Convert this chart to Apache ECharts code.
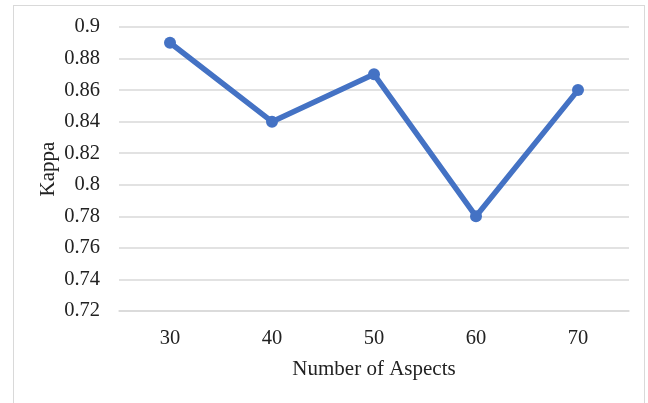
<!DOCTYPE html>
<html><head><meta charset="utf-8">
<script src="https://cdn.jsdelivr.net/npm/echarts@6/dist/echarts.min.js"></script>
<style>html,body{margin:0;padding:0;background:#fff}
#frame{position:absolute;left:13px;top:5px;width:632px;height:420px;border:1px solid #d9d9d9;box-sizing:border-box}
#c{position:absolute;left:0;top:0;width:648px;height:403px}</style>
</head><body><div id="frame"></div><div id="c"></div>
<script>
const categories = ['30','40','50','60','70'];
const kappa = [0.89, 0.84, 0.87, 0.78, 0.86];
const yTicks = {min: 0.72, max: 0.9, interval: 0.02};
const xTitle = 'Number of Aspects';
const yTitle = 'Kappa';

const chart = echarts.init(document.getElementById('c'), null, {renderer:'canvas'});
const font = '"Liberation Serif", "Times New Roman", serif';
chart.setOption({
  animation:false,
  backgroundColor:'transparent',
  grid:{left:119, right:19, top:27, bottom:92},
  xAxis:{type:'category', data:categories, boundaryGap:true,
    axisLine:{show:true, lineStyle:{color:'#d9d9d9', width:1.5}},
    axisTick:{show:false},
    axisLabel:{color:'#222', fontFamily:font, fontSize:20.5, margin:17},
    name:xTitle, nameLocation:'middle', nameGap:48, nameMoveOverlap:false,
    nameTextStyle:{color:'#222', fontFamily:font, fontSize:21}},
  yAxis:{type:'value', min:yTicks.min, max:yTicks.max, interval:yTicks.interval,
    axisLine:{show:false}, axisTick:{show:false},
    splitLine:{lineStyle:{color:'#d9d9d9', width:1.5}},
    axisLabel:{color:'#222', fontFamily:font, fontSize:20.5, margin:19,
      formatter:v=>String(parseFloat(v.toFixed(2)))},
    name:yTitle, nameLocation:'middle', nameGap:60, nameRotate:90, nameMoveOverlap:false,
    nameTextStyle:{color:'#222', fontFamily:font, fontSize:21}},
  series:[{type:'line', data:kappa, symbol:'circle', symbolSize:12,
    lineStyle:{color:'#4472C4', width:5.5}, itemStyle:{color:'#4472C4'}}]
});
</script></body></html>
